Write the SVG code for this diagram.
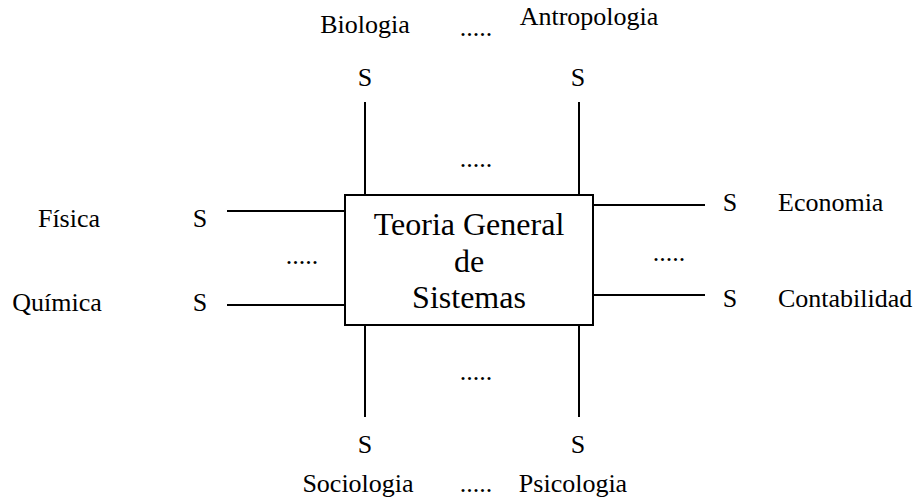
<svg xmlns="http://www.w3.org/2000/svg" width="916" height="499" viewBox="0 0 916 499">
<style>
text{font-family:'Liberation Serif','Times New Roman','DejaVu Serif',serif;fill:#000;font-size:26px}
.c{text-anchor:middle}
.big{font-size:32px}
.ln{stroke:#000;stroke-width:2;fill:none}
</style>
<rect width="916" height="499" fill="#fff"/>
<g id="connectors">
<line class="ln" x1="365" y1="102" x2="365" y2="195"/>
<line class="ln" x1="579" y1="102" x2="579" y2="195"/>
<line class="ln" x1="365" y1="325" x2="365" y2="417"/>
<line class="ln" x1="579" y1="325" x2="579" y2="417"/>
<line class="ln" x1="227" y1="211" x2="345" y2="211"/>
<line class="ln" x1="227" y1="305" x2="345" y2="305"/>
<line class="ln" x1="593" y1="205" x2="705" y2="205"/>
<line class="ln" x1="593" y1="295" x2="705" y2="295"/>
</g>
<g id="tgs">
<rect x="345" y="195" width="248" height="130" fill="#fff" stroke="#000" stroke-width="2"/>
<text class="c big" x="469" y="235">Teoria General</text>
<text class="c big" x="469" y="272">de</text>
<text class="c big" x="469" y="308">Sistemas</text>
</g>
<g id="biologia"><text class="c" x="365" y="33">Biologia</text><text class="c" x="365" y="86">S</text></g>
<g id="antropologia"><text class="c" x="589" y="25">Antropologia</text><text class="c" x="578" y="86">S</text></g>
<g id="fisica"><text class="c" x="69" y="227">Física</text><text class="c" x="200" y="227">S</text></g>
<g id="quimica"><text class="c" x="57" y="311">Química</text><text class="c" x="200" y="311">S</text></g>
<g id="economia"><text class="c" x="730" y="211">S</text><text x="778" y="211">Economia</text></g>
<g id="contabilidad"><text class="c" x="730" y="307">S</text><text x="778" y="307">Contabilidad</text></g>
<g id="sociologia"><text class="c" x="358" y="492">Sociologia</text><text class="c" x="365" y="453">S</text></g>
<g id="psicologia"><text class="c" x="578" y="453">S</text><text class="c" x="573" y="492">Psicologia</text></g>
<g id="dots">
<text class="c" x="476" y="36">.....</text>
<text class="c" x="476" y="167">.....</text>
<text class="c" x="302" y="264">.....</text>
<text class="c" x="669" y="261">.....</text>
<text class="c" x="476" y="380">.....</text>
<text class="c" x="476" y="492">.....</text>
</g>
</svg>
